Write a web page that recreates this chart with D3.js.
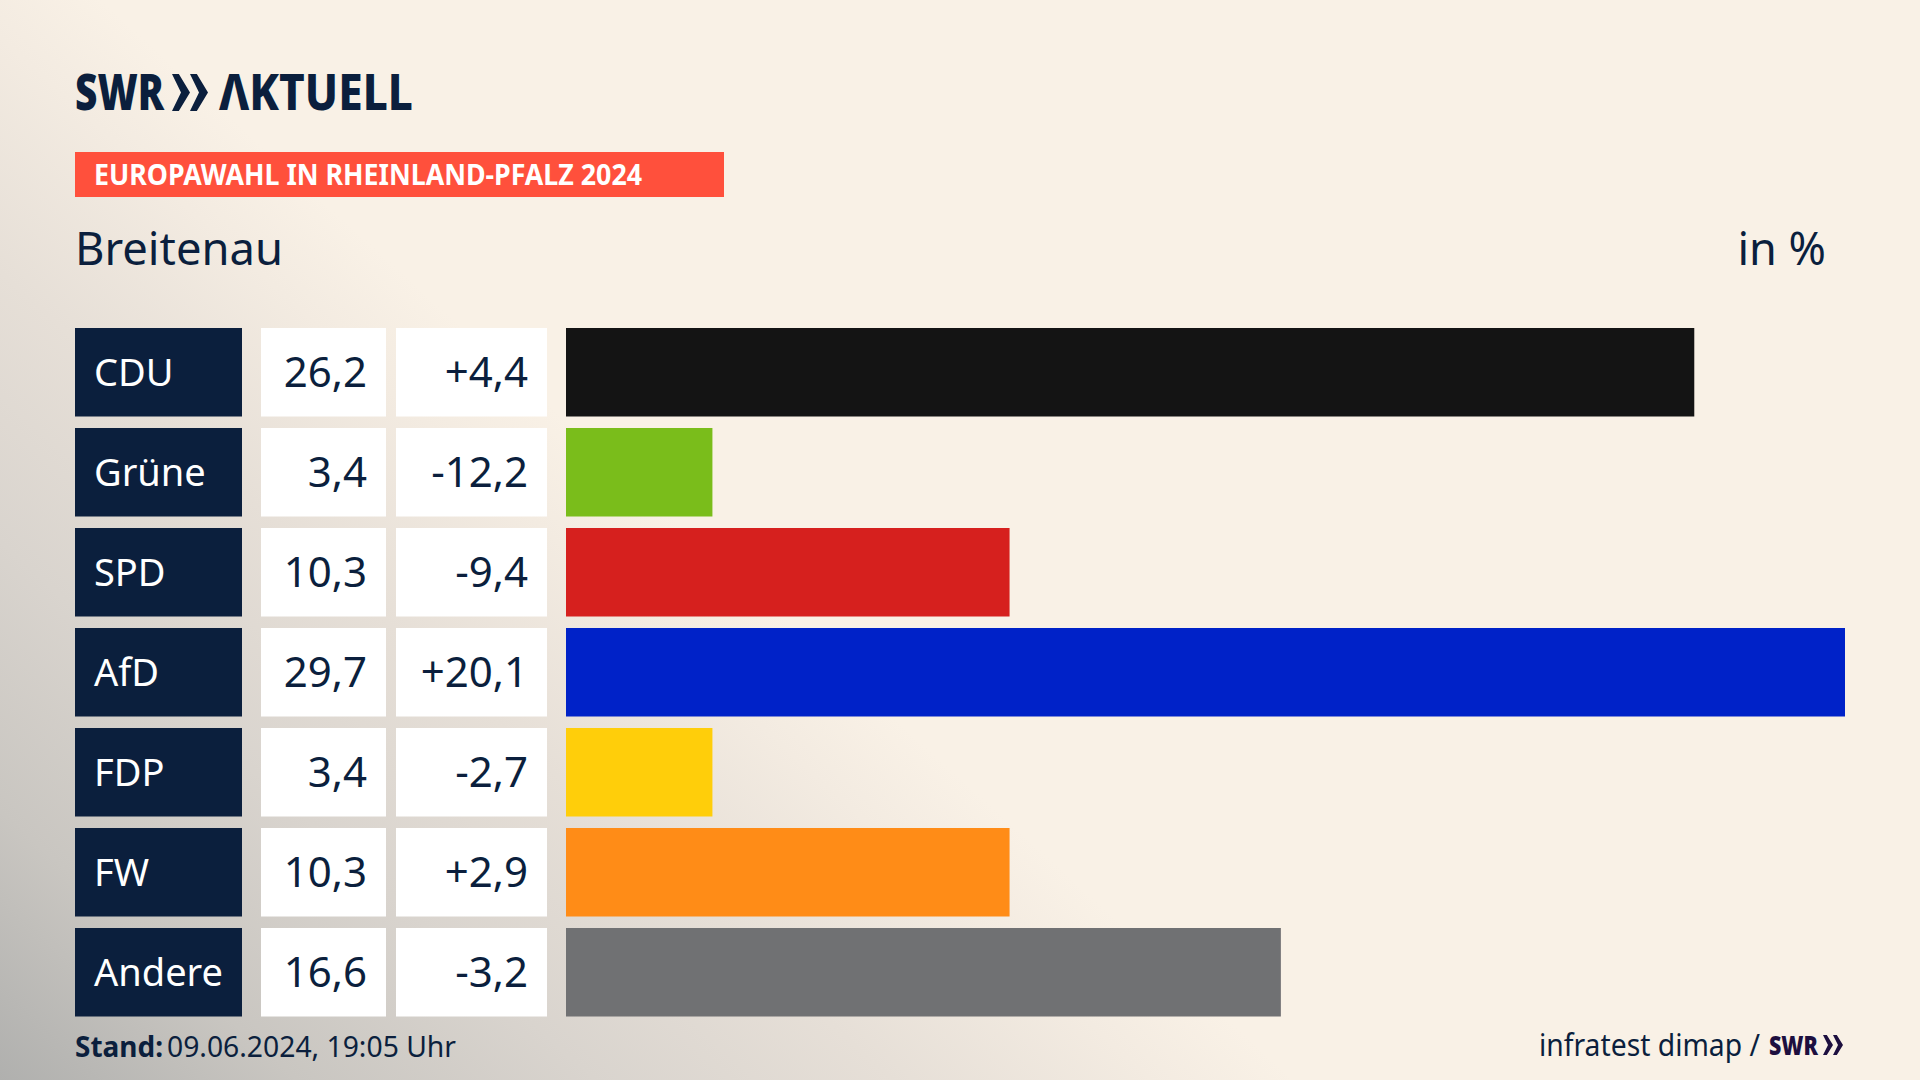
<!DOCTYPE html>
<html>
<head>
<meta charset="utf-8">
<script src="https://cdn.jsdelivr.net/npm/d3@7"></script>
<style>
  html, body { margin: 0; padding: 0; background: #f9f1e6; }
  svg { display: block; }
  text { font-family: "Noto Sans", sans-serif; }
</style>
</head>
<body>
<svg id="chart" width="1920" height="1080"></svg>
<script>
const parties = ["CDU", "Grüne", "SPD", "AfD", "FDP", "FW", "Andere"];
const shares = [26.2, 3.4, 10.3, 29.7, 3.4, 10.3, 16.6];
const changes = ["+4,4", "-12,2", "-9,4", "+20,1", "-2,7", "+2,9", "-3,2"];
const barColors = ["#141414", "#7abd1b", "#d6201e", "#0022c8", "#ffce0a", "#ff8c17", "#707173"];

const navy = "#0b1f3d";
const svg = d3.select("#chart");
const comma = d3.format(".1f");

// Hintergrund mit grauem Verlauf von unten links
const defs = svg.append("defs");
const grad = defs.append("linearGradient")
  .attr("id", "bg")
  .attr("gradientUnits", "userSpaceOnUse")
  .attr("x1", 0).attr("y1", 1080).attr("x2", 583).attr("y2", 436);
[[0, "#b0b0ae"], [0.23, "#c9c6c1"], [0.46, "#d9d4ce"], [0.69, "#e6dfd7"], [0.89, "#f3ebe1"], [1, "#f9f1e6"]].forEach(s => {
  grad.append("stop").attr("offset", s[0]).attr("stop-color", s[1]);
});
svg.append("rect").attr("width", 1920).attr("height", 1080).attr("fill", "url(#bg)");

// Doppelpfeil vom SWR-Logo
function chevrons(g, x, y, w, h, fill) {
  const cw = w / 2;
  [0, 1].forEach(i => {
    const x0 = x + i * cw;
    g.append("path")
      .attr("d", `M${x0},${y} L${x0 + cw * 0.38},${y} L${x0 + cw},${y + h / 2} L${x0 + cw * 0.38},${y + h} L${x0},${y + h} L${x0 + cw * 0.5},${y + h / 2} Z`)
      .attr("fill", fill);
  });
}
svg.append("text").attr("x", 75).attr("y", 110)
  .attr("font-size", 49).attr("font-weight", 900).attr("fill", navy)
  .attr("textLength", 89).attr("lengthAdjust", "spacingAndGlyphs").text("SWR");
chevrons(svg, 172, 74, 36, 37, navy);
svg.append("text").attr("x", 219).attr("y", 110)
  .attr("font-size", 49).attr("font-weight", 800).attr("fill", navy)
  .attr("textLength", 194).attr("lengthAdjust", "spacingAndGlyphs").text("ΛKTUELL");

// Banner
svg.append("rect").attr("x", 75).attr("y", 152).attr("width", 649).attr("height", 45).attr("fill", "#ff503c");
svg.append("text").attr("x", 94).attr("y", 185)
  .attr("font-size", 28).attr("font-weight", 700).attr("fill", "#fff")
  .attr("textLength", 548).attr("lengthAdjust", "spacingAndGlyphs")
  .text("EUROPAWAHL IN RHEINLAND-PFALZ 2024");

svg.append("text").attr("x", 75).attr("y", 265)
  .attr("font-size", 46).attr("fill", navy)
  .attr("textLength", 208).attr("lengthAdjust", "spacingAndGlyphs").text("Breitenau");
svg.append("text").attr("x", 1826).attr("y", 265)
  .attr("font-size", 45).attr("fill", navy).attr("text-anchor", "end").text("in %");

// Skalen
const y = d3.scaleBand().domain(parties).range([328, 1016.5]).paddingInner(0.115).paddingOuter(0);
const x = d3.scaleLinear().domain([0, 29.7]).range([566, 1845]);

const rows = svg.selectAll("g.row")
  .data(parties.map((p, i) => ({ party: p, share: shares[i], change: changes[i], color: barColors[i] })))
  .enter()
  .append("g")
  .attr("class", "row");

rows.append("rect").attr("x", 75).attr("width", 167)
  .attr("y", d => y(d.party)).attr("height", y.bandwidth()).attr("fill", navy);
rows.append("rect").attr("x", 261).attr("width", 125)
  .attr("y", d => y(d.party)).attr("height", y.bandwidth()).attr("fill", "#fff");
rows.append("rect").attr("x", 396).attr("width", 151)
  .attr("y", d => y(d.party)).attr("height", y.bandwidth()).attr("fill", "#fff");
rows.append("rect").attr("x", x(0))
  .attr("y", d => y(d.party)).attr("height", y.bandwidth())
  .attr("width", d => x(d.share) - x(0)).attr("fill", d => d.color);

rows.append("text").attr("x", 94).attr("y", d => y(d.party) + 58)
  .attr("font-size", 38).attr("fill", "#fff").text(d => d.party);
rows.append("text").attr("x", 367).attr("y", d => y(d.party) + 59)
  .attr("font-size", 42).attr("fill", navy).attr("text-anchor", "end")
  .text(d => comma(d.share).replace(".", ","));
rows.append("text").attr("x", 528).attr("y", d => y(d.party) + 59)
  .attr("font-size", 42).attr("fill", navy).attr("text-anchor", "end")
  .text(d => d.change);

// Fusszeile
svg.append("text").attr("x", 75).attr("y", 1057)
  .attr("font-size", 29).attr("font-weight", 700).attr("fill", navy)
  .attr("textLength", 88).attr("lengthAdjust", "spacingAndGlyphs").text("Stand:");
svg.append("text").attr("x", 167).attr("y", 1057)
  .attr("font-size", 29).attr("fill", navy)
  .attr("textLength", 289).attr("lengthAdjust", "spacingAndGlyphs").text("09.06.2024, 19:05 Uhr");
svg.append("text").attr("x", 1539).attr("y", 1056)
  .attr("font-size", 30).attr("fill", navy)
  .attr("textLength", 221).attr("lengthAdjust", "spacingAndGlyphs").text("infratest dimap /");
svg.append("text").attr("x", 1769).attr("y", 1055)
  .attr("font-size", 27).attr("font-weight", 900).attr("fill", "#1d0f3f")
  .attr("textLength", 49).attr("lengthAdjust", "spacingAndGlyphs").text("SWR");
chevrons(svg, 1823, 1035, 20, 20, "#1d0f3f");
</script>
</body>
</html>
